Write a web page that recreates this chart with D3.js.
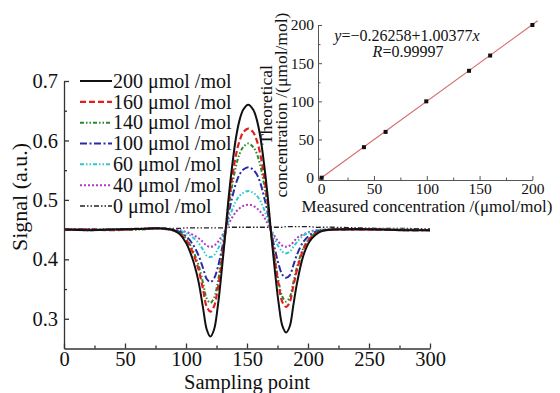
<!DOCTYPE html>
<html><head><meta charset="utf-8">
<script src="https://cdn.jsdelivr.net/npm/d3@7/dist/d3.min.js"></script>
<style>
html,body{margin:0;padding:0;background:#fff;}
svg{display:block;}
svg text{font-family:"Liberation Serif","Tinos","Times New Roman","DejaVu Serif",serif !important;}
</style></head>
<body><svg id="c" width="560" height="393"></svg>
<script>
// ---------- data ----------
const samplingPoints = [0,20,40,60,80,90,95,100,105,110,114,117,120,123,126,129,132,135,138,141,144,147,151,155,158,161,164,167,170,173,176,179,182,185,188,191,196,201,206,212,220,240,260,280,300];
const s200 = [0.450,0.449,0.450,0.451,0.452,0.449,0.442,0.428,0.403,0.365,0.318,0.282,0.270,0.282,0.320,0.375,0.438,0.505,0.560,0.605,0.635,0.652,0.660,0.652,0.635,0.605,0.560,0.505,0.438,0.378,0.325,0.288,0.277,0.287,0.323,0.360,0.405,0.429,0.441,0.448,0.450,0.451,0.450,0.449,0.449];
const s160 = [0.450,0.450,0.449,0.451,0.452,0.448,0.443,0.433,0.414,0.385,0.349,0.320,0.312,0.321,0.350,0.392,0.441,0.495,0.539,0.576,0.600,0.614,0.620,0.614,0.600,0.576,0.539,0.495,0.441,0.396,0.356,0.328,0.320,0.328,0.355,0.382,0.416,0.434,0.443,0.448,0.450,0.450,0.450,0.449,0.449];
const s140 = [0.450,0.449,0.450,0.450,0.452,0.449,0.445,0.435,0.418,0.392,0.360,0.334,0.327,0.335,0.361,0.399,0.442,0.488,0.526,0.557,0.578,0.589,0.595,0.589,0.578,0.557,0.526,0.488,0.442,0.400,0.362,0.337,0.329,0.336,0.361,0.387,0.418,0.435,0.444,0.449,0.450,0.451,0.450,0.450,0.449];
const s100 = [0.450,0.450,0.450,0.451,0.452,0.449,0.446,0.439,0.427,0.408,0.385,0.367,0.362,0.368,0.386,0.413,0.444,0.478,0.505,0.528,0.543,0.551,0.555,0.551,0.543,0.528,0.505,0.478,0.444,0.416,0.391,0.374,0.369,0.373,0.390,0.408,0.429,0.440,0.446,0.449,0.450,0.450,0.450,0.449,0.449];
const s60  = [0.449,0.450,0.450,0.451,0.452,0.449,0.448,0.444,0.438,0.428,0.416,0.406,0.404,0.407,0.417,0.431,0.447,0.467,0.484,0.498,0.507,0.512,0.515,0.512,0.507,0.498,0.484,0.467,0.447,0.433,0.421,0.413,0.410,0.413,0.421,0.429,0.440,0.445,0.448,0.450,0.450,0.450,0.451,0.450,0.449];
const s40  = [0.450,0.450,0.450,0.451,0.452,0.450,0.449,0.446,0.442,0.436,0.429,0.423,0.421,0.423,0.429,0.438,0.448,0.460,0.471,0.480,0.486,0.490,0.492,0.490,0.486,0.480,0.471,0.460,0.448,0.438,0.429,0.423,0.421,0.423,0.429,0.436,0.442,0.446,0.449,0.450,0.450,0.450,0.450,0.450,0.449];
const s0   = [0.451,0.451,0.451,0.452,0.452,0.452,0.452,0.453,0.453,0.453,0.453,0.453,0.453,0.453,0.453,0.453,0.453,0.454,0.454,0.454,0.454,0.454,0.454,0.454,0.454,0.454,0.454,0.454,0.454,0.454,0.454,0.454,0.455,0.455,0.455,0.455,0.455,0.455,0.454,0.454,0.454,0.453,0.452,0.452,0.451];
const seriesLabels = ["200 μmol /mol","160 μmol /mol","140 μmol /mol","100 μmol /mol","60 μmol /mol","40 μmol /mol","0 μmol /mol"];
const xTicks = [0,50,100,150,200,250,300];
const yTicks = [0.3,0.4,0.5,0.6,0.7];

// inset data
const measured    = [0.5,40.5,61,99.5,140,160,200];
const theoretical = [0,40,60,100,140,160,200];
const fitIntercept = -0.26258, fitSlope = 1.00377;
const insetTicks = [0,50,100,150,200];

// ---------- styles ----------
const styles = [
  {c:"#111", w:2, d:null},
  {c:"#e02020", w:2.2, d:"6,3"},
  {c:"#2a8a2a", w:2, d:"4,2,1.5,2,1.5,2"},
  {c:"#2a2aa8", w:2, d:"7,2.5,2,2.5"},
  {c:"#30c8d0", w:2, d:"4,2,1.5,2,1.5,2"},
  {c:"#b03cc0", w:2, d:"2,2"},
  {c:"#222", w:1.3, d:"5,2,1.5,2,1.5,2"}
];
const seriesData = [s200,s160,s140,s100,s60,s40,s0];

const svg = d3.select("#c");
const x = d3.scaleLinear([0,300],[64,430]);
const y = d3.scaleLinear([0.25,0.7],[348.5,81]);

// curves
const line = d3.line().x((d,i)=>x(samplingPoints[i])).y(d=>y(d)).curve(d3.curveCatmullRom.alpha(0.5));
const order = [6,5,4,3,2,1,0];
order.forEach(k=>{
  svg.append("path").attr("d", line(seriesData[k])).attr("fill","none")
    .attr("stroke",styles[k].c).attr("stroke-width",styles[k].w)
    .attr("stroke-dasharray",styles[k].d);
});

// main axes
const axCol = "#333";
const gx = svg.append("g").attr("transform","translate(0,348.5)");
gx.call(d3.axisBottom(x).tickValues(xTicks).tickSizeInner(-5).tickSizeOuter(0).tickPadding(4).tickFormat(d3.format("d")));
const gxm = svg.append("g").attr("transform","translate(0,348.5)");
gxm.call(d3.axisBottom(x).tickValues(d3.range(25,300,50)).tickSizeInner(-3).tickSizeOuter(0).tickFormat(""));
gxm.select(".domain").remove();
const gy = svg.append("g").attr("transform","translate(64,0)");
gy.call(d3.axisLeft(y).tickValues(yTicks).tickSizeInner(-5).tickSizeOuter(0).tickPadding(6).tickFormat(d3.format(".1f")));
const gym = svg.append("g").attr("transform","translate(64,0)");
gym.call(d3.axisLeft(y).tickValues([0.35,0.45,0.55,0.65]).tickSizeInner(-3).tickSizeOuter(0).tickFormat(""));
gym.select(".domain").remove();
[gx,gy,gxm,gym].forEach(g=>{
  g.selectAll("path,line").attr("stroke",axCol).attr("stroke-width",1.3);
  g.selectAll("text").attr("font-size",20.5).attr("fill","#111");
});
gx.selectAll("text").attr("dy","0.66em");

svg.append("text").attr("x",247).attr("y",389).attr("text-anchor","middle")
  .attr("font-size",20.5).attr("fill","#111").text("Sampling point");
svg.append("text").attr("transform","translate(27,197) rotate(-90)").attr("text-anchor","middle")
  .attr("font-size",22).attr("fill","#111").text("Signal (a.u.)");

// legend
const legY = d3.scaleLinear([0,6],[81,206]);
seriesLabels.forEach((lab,k)=>{
  const yy = legY(k);
  svg.append("line").attr("x1",80).attr("x2",112).attr("y1",yy).attr("y2",yy)
    .attr("stroke",styles[k].c).attr("stroke-width",styles[k].w).attr("stroke-dasharray",styles[k].d);
  svg.append("text").attr("x",113).attr("y",yy).attr("dy","0.34em")
    .attr("font-size",20).attr("fill","#111").text(lab);
});

// ---------- inset ----------
const ix = d3.scaleLinear([-3,200],[318,532.4]);
const iy = d3.scaleLinear([-3,200],[180,25]);
const icol = "#555";
const igx = svg.append("g").attr("transform","translate(0,180)");
igx.call(d3.axisBottom(ix).tickValues(insetTicks).tickSizeInner(-4).tickSizeOuter(0).tickPadding(4));
const igxm = svg.append("g").attr("transform","translate(0,180)");
igxm.call(d3.axisBottom(ix).tickValues([25,75,125,175]).tickSizeInner(-2.5).tickSizeOuter(0).tickFormat(""));
igxm.select(".domain").remove();
const igy = svg.append("g").attr("transform","translate(318,0)");
igy.call(d3.axisLeft(iy).tickValues(insetTicks).tickSizeInner(-4).tickSizeOuter(0).tickPadding(4));
const igym = svg.append("g").attr("transform","translate(318,0)");
igym.call(d3.axisLeft(iy).tickValues([25,75,125,175]).tickSizeInner(-2.5).tickSizeOuter(0).tickFormat(""));
igym.select(".domain").remove();
[igx,igy,igxm,igym].forEach(g=>{
  g.selectAll("path,line").attr("stroke",icol).attr("stroke-width",1);
  g.selectAll("text").attr("font-size",15.5).attr("fill","#111");
});
igx.selectAll("text").attr("dy","0.62em");

// fit line
const fx = [-3,205];
svg.append("path").attr("d", d3.line().x(d=>ix(d)).y(d=>iy(fitIntercept+fitSlope*d))(fx))
  .attr("stroke","#d46a6a").attr("stroke-width",1.1).attr("fill","none");
// points
svg.selectAll("rect.pt").data(measured).enter().append("rect").attr("class","pt")
  .attr("x",(d)=>ix(d)-2).attr("y",(d,i)=>iy(theoretical[i])-2).attr("width",4).attr("height",4).attr("fill","#111");

svg.append("text").attr("x",407).attr("y",41).attr("text-anchor","middle").attr("font-size",16).attr("fill","#111")
  .html('<tspan font-style="italic">y</tspan>=−0.26258+1.00377<tspan font-style="italic">x</tspan>');
svg.append("text").attr("x",408).attr("y",57).attr("text-anchor","middle").attr("font-size",16).attr("fill","#111")
  .html('<tspan font-style="italic">R</tspan>=0.99997');

svg.append("text").attr("x",427).attr("y",212).attr("text-anchor","middle").attr("font-size",17).attr("fill","#111")
  .text("Measured concentration /(μmol/mol)");
svg.append("text").attr("transform","translate(272,105) rotate(-90)").attr("text-anchor","middle")
  .attr("font-size",17.5).attr("fill","#111").text("Theoretical");
svg.append("text").attr("transform","translate(287,105) rotate(-90)").attr("text-anchor","middle")
  .attr("font-size",17.5).attr("fill","#111").text("concentration /(μmol/mol)");
</script></body></html>
